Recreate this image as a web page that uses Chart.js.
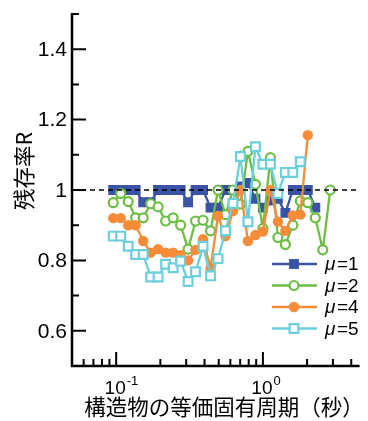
<!DOCTYPE html>
<html>
<head>
<meta charset="utf-8">
<script src="https://cdn.jsdelivr.net/npm/chart.js@4.4.1/dist/chart.umd.min.js"></script>
<style>
  html, body { margin: 0; padding: 0; background: #fff; }
  #wrap { width: 368px; height: 421px; position: relative; }
</style>
</head>
<body>
<div id="wrap"><canvas id="chart"></canvas></div>
<script>
// periods (s), shared by all series
const periods = [0.0955, 0.1074, 0.1208, 0.1358, 0.1528, 0.1718, 0.1932, 0.2173, 0.2444, 0.2748,
  0.3091, 0.3476, 0.3909, 0.4396, 0.4944, 0.556, 0.6253, 0.7032, 0.7908, 0.8894,
  1.0, 1.125, 1.265, 1.423, 1.6, 1.799, 2.023, 2.276, 2.559, 2.878];

const mu1 = [1.0, 1.0, 1.0, 1.0, 0.965, 0.965, 1.0, 1.0, 1.0, 1.0, 0.965, 1.0, 1.0, 0.95, 0.95,
  1.0, 1.0, 1.01, 1.02, 0.975, 0.95, 0.97, 0.975, 0.935, 1.0, 1.0, 1.0, 0.95];
const mu2 = [0.964, 0.99, 0.967, 0.921, 0.921, 0.961, 0.952, 0.912, 0.921, 0.90, 0.832, 0.912, 0.914,
  0.884, 1.0, 0.93, 1.0, 0.96, 1.11, 1.016, 0.891, 1.092, 0.865, 0.845, 0.90, 0.969, 0.964, 0.921, 0.83, 1.0];
const mu4 = [0.92, 0.92, 0.90, 0.90, 0.855, 0.822, 0.832, 0.822, 0.822, 0.815, 0.80, 0.83, 0.86,
  0.778, 0.926, 0.869, 0.94, 1.0, 0.855, 0.872, 0.882, 1.0, 0.91, 0.884, 0.928, 0.93, 1.156];
const mu5 = [0.869, 0.869, 0.84, 0.817, 0.817, 0.753, 0.753, 0.789, 0.779, 0.798, 0.74, 0.768, 0.84,
  0.756, 0.805, 0.884, 0.962, 1.095, 0.91, 1.123, 1.073, 1.073, 0.99, 1.05, 1.05, 1.08];

const seriesLabels = ['1', '2', '4', '5'];
const yTicks = [0.6, 0.8, 1, 1.2, 1.4];
const yMinor = [0.7, 0.9, 1.1, 1.3, 1.5];
const xTicks = [0.1, 1];
const xTickExp = ['-1', '0'];
const xMinor = [0.06, 0.07, 0.08, 0.09, 0.2, 0.3, 0.4, 0.5, 0.6, 0.7, 0.8, 0.9, 2, 3, 4];
const refLine = 1;
const yTitle = '残存率R';
const xTitle = '構造物の等価固有周期（秒）';

const toXY = arr => arr.map((v, i) => ({ x: periods[i], y: v }));

const styles = [
  { color: '#3a53a4', fill: '#3a53a4', pointStyle: 'rect', radius: 7, bw: 0 },
  { color: '#6dbe45', fill: '#ffffff', pointStyle: 'circle', radius: 4.5, bw: 2.2 },
  { color: '#f68b38', fill: '#f68b38', pointStyle: 'circle', radius: 5.2, bw: 0 },
  { color: '#6ccfdc', fill: '#ffffff', pointStyle: 'rect', radius: 6.2, bw: 2.2 }
];
const allData = [mu1, mu2, mu4, mu5];

const datasets = allData.map((d, i) => ({
  label: 'μ=' + seriesLabels[i],
  data: toXY(d),
  borderColor: styles[i].color,
  backgroundColor: styles[i].fill,
  borderWidth: 2.3,
  pointStyle: styles[i].pointStyle,
  pointRadius: styles[i].radius,
  pointBorderWidth: styles[i].bw,
  pointBorderColor: styles[i].color,
  pointBackgroundColor: styles[i].fill,
  tension: 0,
  order: 3 - i
}));

function drawMarker(ctx, s, x, y) {
  ctx.fillStyle = s.fill;
  ctx.strokeStyle = s.color;
  ctx.lineWidth = s.bw || 0;
  ctx.beginPath();
  if (s.pointStyle === 'rect') {
    const h = s.radius * Math.SQRT1_2;
    ctx.rect(x - h, y - h, 2 * h, 2 * h);
  } else {
    ctx.arc(x, y, s.radius, 0, Math.PI * 2);
  }
  ctx.fill();
  if (s.bw) ctx.stroke();
}

const decor = {
  id: 'decor',
  afterDatasetsDraw(chart) {
    const { ctx, chartArea: a, scales: { x, y } } = chart;
    ctx.save();
    // reference line
    const yy = y.getPixelForValue(refLine);
    ctx.setLineDash([5, 4]);
    ctx.lineWidth = 1.5;
    ctx.strokeStyle = '#000';
    ctx.beginPath(); ctx.moveTo(a.left, yy); ctx.lineTo(a.right, yy); ctx.stroke();
    ctx.setLineDash([]);

    // axes
    ctx.lineWidth = 2.5;
    ctx.beginPath();
    ctx.moveTo(a.left, a.top - 1);
    ctx.lineTo(a.left, a.bottom);
    ctx.lineTo(a.right, a.bottom);
    ctx.stroke();

    // inward ticks
    ctx.lineWidth = 2;
    ctx.beginPath();
    yTicks.forEach(v => { const p = y.getPixelForValue(v); ctx.moveTo(a.left, p); ctx.lineTo(a.left + 14, p); });
    yMinor.forEach(v => { const p = y.getPixelForValue(v); ctx.moveTo(a.left, p); ctx.lineTo(a.left + 7, p); });
    xTicks.forEach(v => { const p = x.getPixelForValue(v); ctx.moveTo(p, a.bottom); ctx.lineTo(p, a.bottom - 14); });
    xMinor.forEach(v => { const p = x.getPixelForValue(v); ctx.moveTo(p, a.bottom); ctx.lineTo(p, a.bottom - 7); });
    ctx.stroke();

    // y tick labels
    ctx.fillStyle = '#000';
    ctx.font = '21px "Liberation Sans", Arial, sans-serif';
    ctx.textAlign = 'right';
    ctx.textBaseline = 'middle';
    yTicks.forEach(v => ctx.fillText(String(v), a.left - 5, y.getPixelForValue(v) + 1));

    // x tick labels 10^n
    xTicks.forEach((v, i) => {
      const p = x.getPixelForValue(v);
      ctx.font = '19px "Liberation Sans", Arial, sans-serif';
      ctx.textAlign = 'center';
      ctx.textBaseline = 'alphabetic';
      ctx.fillText('10', p - 1, a.bottom + 28);
      const w = ctx.measureText('10').width;
      ctx.font = '13px "Liberation Sans", Arial, sans-serif';
      ctx.textAlign = 'left';
      ctx.fillText(xTickExp[i], p - 1 + w / 2 + 1, a.bottom + 19);
    });

    // axis titles
    ctx.font = '21.5px "Noto Sans CJK JP", sans-serif';
    ctx.textAlign = 'center';
    ctx.textBaseline = 'middle';
    ctx.fillText(xTitle, 224, 407);
    ctx.save();
    ctx.translate(24, 171);
    ctx.rotate(-Math.PI / 2);
    ctx.fillText(yTitle, 0, 0);
    ctx.restore();

    // legend
    chart.data.datasets.forEach((ds, i) => {
      const ly = 264 + i * 21.5;
      const s = styles[i];
      ctx.strokeStyle = s.color;
      ctx.lineWidth = 2.3;
      ctx.beginPath(); ctx.moveTo(272, ly); ctx.lineTo(317, ly); ctx.stroke();
      drawMarker(ctx, s, 294, ly);
      ctx.fillStyle = '#000';
      ctx.textAlign = 'left';
      ctx.textBaseline = 'middle';
      ctx.font = 'italic 19px "Liberation Sans", Arial, sans-serif';
      ctx.fillText('μ', 325, ly + 1);
      ctx.font = '19px "Liberation Sans", Arial, sans-serif';
      ctx.fillText('=' + seriesLabels[i], 337, ly + 1);
    });
    ctx.restore();
  }
};

new Chart(document.getElementById('chart'), {
  type: 'line',
  data: { datasets },
  options: {
    responsive: true,
    maintainAspectRatio: false,
    animation: false,
    devicePixelRatio: 1,
    layout: { padding: { left: 72, right: 0, top: 14, bottom: 55 } },
    plugins: { legend: { display: false }, tooltip: { enabled: false } },
    scales: {
      x: { type: 'logarithmic', min: 0.05, max: 4.56, display: false },
      y: { type: 'linear', min: 0.5, max: 1.5, display: false }
    }
  },
  plugins: [decor]
});
</script>
</body>
</html>
